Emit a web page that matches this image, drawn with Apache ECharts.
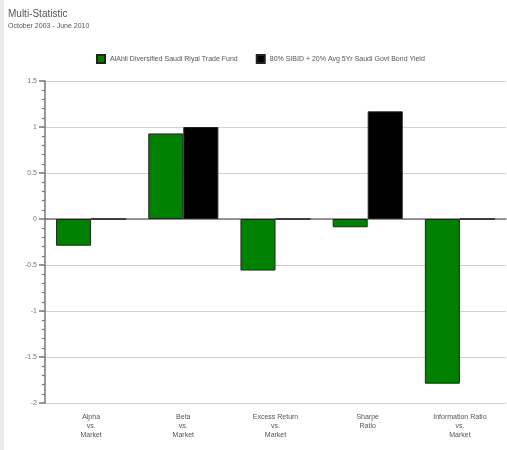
<!DOCTYPE html>
<html>
<head>
    <meta charset="utf-8">
    <title>Multi-Statistic</title>
    <style type="text/css">
        body {
            margin: 0;
        }
        #main {
            width: 507px;
            height: 450px;
        }
    </style>
</head>
<body>
    <div id="main"></div>
    <script src="https://cdn.jsdelivr.net/npm/echarts@6/dist/echarts.min.js"></script>
    <script>
        var categories = [
            'Alpha\nvs.\nMarket',
            'Beta\nvs.\nMarket',
            'Excess Return\nvs.\nMarket',
            'Sharpe\nRatio',
            'Information Ratio\nvs.\nMarket'
        ];
        var fundName = 'AlAhli Diversified Saudi Riyal Trade Fund';
        var benchName = '80% SIBID + 20% Avg 5Yr Saudi Govt Bond Yield';
        var fundValues = [-0.29, 0.93, -0.56, -0.09, -1.79];
        var benchValues = [0, 1.0, 0, 1.17, 0];

        var chart = echarts.init(document.getElementById('main'));
        var font = 'Liberation Sans, Arial, sans-serif';

        chart.setOption({
            animation: false,
            backgroundColor: '#fff',
            graphic: [{
                type: 'rect',
                left: 0,
                top: 0,
                shape: { width: 4, height: 450 },
                style: { fill: '#ebebeb' }
            }],
            title: {
                text: 'Multi-Statistic',
                subtext: 'October 2003 - June 2010',
                left: 3,
                top: 4,
                itemGap: 4,
                textStyle: { fontFamily: font, fontSize: 10, fontWeight: 'normal', color: '#555' },
                subtextStyle: { fontFamily: font, fontSize: 7, color: '#555' }
            },
            legend: {
                top: 49,
                left: 91,
                icon: 'rect',
                itemWidth: 8,
                itemHeight: 8,
                itemGap: 18,
                textStyle: { fontFamily: font, fontSize: 7, color: '#555' },
                data: [fundName, benchName]
            },
            grid: {
                left: 45,
                right: 1,
                top: 81,
                bottom: 47
            },
            xAxis: {
                type: 'category',
                data: categories,
                axisLine: { lineStyle: { color: '#777', width: 1.5 } },
                axisTick: { alignWithLabel: true, length: 7, lineStyle: { color: '#777', width: 1.5 } },
                axisLabel: {
                    fontFamily: font,
                    fontSize: 7,
                    color: '#555',
                    lineHeight: 9,
                    margin: 10
                }
            },
            yAxis: {
                type: 'value',
                min: -2,
                max: 1.5,
                interval: 0.5,
                axisLine: { show: true, lineStyle: { color: '#777', width: 1.5 } },
                axisTick: { show: true, length: 6, lineStyle: { color: '#777', width: 1.5 } },
                minorTick: { show: true, splitNumber: 5, length: 3, lineStyle: { color: '#777', width: 1.2 } },
                splitLine: { lineStyle: { color: '#d0d0d0', width: 1 } },
                axisLabel: {
                    fontFamily: font,
                    fontSize: 7,
                    color: '#777',
                    margin: 8
                }
            },
            series: [{
                name: fundName,
                type: 'bar',
                data: fundValues,
                barGap: '0%',
                barCategoryGap: '24%',
                itemStyle: { color: '#008000', borderColor: '#222', borderWidth: 1 }
            }, {
                name: benchName,
                type: 'bar',
                data: benchValues,
                itemStyle: { color: '#000', borderColor: '#222', borderWidth: 1 }
            }]
        });
    </script>
</body>
</html>
